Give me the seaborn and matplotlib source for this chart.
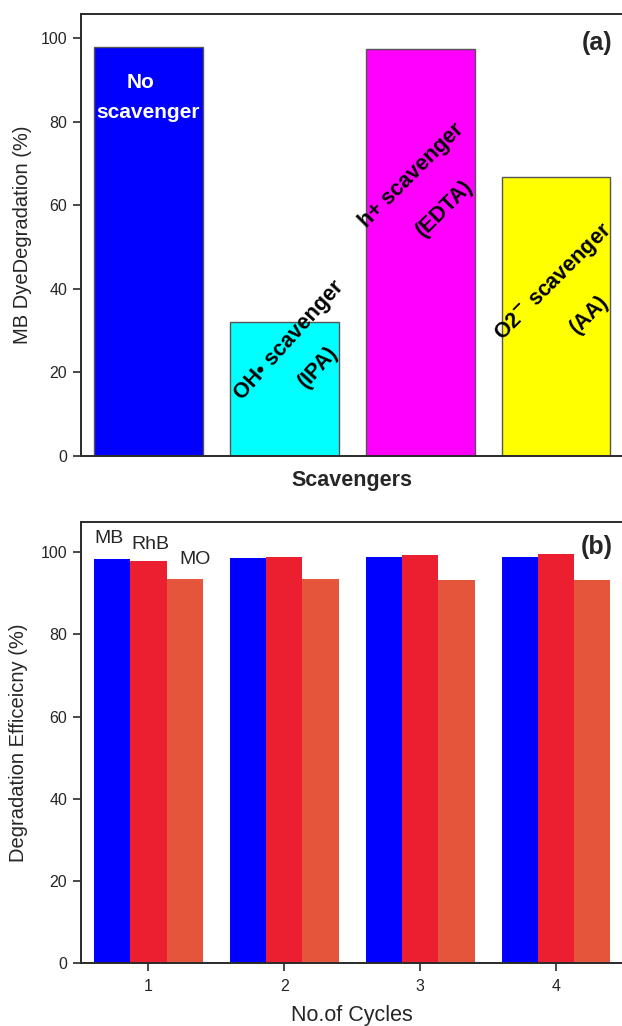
import matplotlib
matplotlib.use("Agg")
import matplotlib.pyplot as plt
import seaborn as sns
import pandas as pd

# ---- data ----
scavengers = ["No scavenger", "OH scavenger (IPA)", "h+ scavenger (EDTA)", "O2 scavenger (AA)"]
degradation = [98.0, 32.0, 97.4, 66.8]
scav_colors = ["#0000FF", "#00FFFF", "#FF00FF", "#FFFF00"]

cycles = ["1", "2", "3", "4"]
mb = [98.3, 98.5, 98.7, 98.9]
rhb = [97.9, 98.8, 99.2, 99.6]
mo = [93.4, 93.4, 93.2, 93.1]
dyes = ["MB", "RhB", "MO"]
dye_colors = ["#0000FF", "#EC1F31", "#E4553B"]

sns.set_style("ticks")
plt.rcParams["font.family"] = ["Liberation Sans", "DejaVu Sans"]
plt.rcParams["axes.edgecolor"] = "#2a2a2a"
plt.rcParams["axes.linewidth"] = 1.4

fig = plt.figure(figsize=(6.22, 10.26), dpi=100)
W, H = 622.0, 1026.0

def pos(l, r, t, b):
    return [l / W, 1 - b / H, (r - l) / W, (b - t) / H]

# ---------- panel (a) ----------
ax1 = fig.add_axes(pos(80.5, 624, 14, 455.7))
sns.barplot(x=scavengers, y=degradation, hue=scavengers, palette=scav_colors,
            legend=False, saturation=1, width=0.8, edgecolor="#555555",
            linewidth=1.0, ax=ax1)
ax1.set_xlim(-0.5, 3.5)
ax1.set_ylim(0, 105.8)
ax1.set_yticks([0, 20, 40, 60, 80, 100])
ax1.set_xticks([])
ax1.tick_params(axis="y", direction="out", length=6, width=1.2, labelsize=11.5,
                color="#2a2a2a")
ax1.set_ylabel("MB DyeDegradation (%)", fontsize=14.5, labelpad=6)
ax1.set_xlabel("Scavengers", fontsize=15.5, fontweight="bold", labelpad=10)
for s in ax1.spines.values():
    s.set_visible(True)

ax1.text(-0.06, 89.3, "No", color="white", fontsize=15, fontweight="bold",
         ha="center", va="center")
ax1.text(0.0, 82.1, "scavenger", color="white", fontsize=15, fontweight="bold",
         ha="center", va="center")

rot_kw = dict(color="black", fontsize=15.5, fontweight="bold", ha="center",
              va="center", rotation_mode="anchor")
ax1.text(1.035, 27.7, "OH\u2022 scavenger", rotation=48, **rot_kw)
ax1.text(1.248, 21.2, "(IPA)", rotation=48, **rot_kw)
ax1.text(1.936, 67.2, "h+ scavenger", rotation=45, **rot_kw)
ax1.text(2.179, 59.2, "(EDTA)", rotation=45, **rot_kw)
ax1.text(2.981, 41.6, "O2$^{\\mathbf{-}}$ scavenger", rotation=45, **rot_kw)
ax1.text(3.243, 33.7, "(AA)", rotation=45, **rot_kw)

ax1.annotate("(a)", xy=(597, H - 43), xycoords="figure pixels", fontsize=18,
             fontweight="bold", ha="center", va="center")

# ---------- panel (b) ----------
df = pd.DataFrame({
    "cycle": cycles * 3,
    "eff": mb + rhb + mo,
    "dye": [dyes[0]] * 4 + [dyes[1]] * 4 + [dyes[2]] * 4,
})
ax2 = fig.add_axes(pos(80.5, 624, 521.7, 963.3))
sns.barplot(data=df, x="cycle", y="eff", hue="dye", palette=dye_colors,
            saturation=1, width=0.8, linewidth=0, ax=ax2)
if ax2.get_legend() is not None:
    ax2.get_legend().remove()
ax2.set_xlim(-0.5, 3.5)
ax2.set_ylim(0, 107.4)
ax2.set_yticks([0, 20, 40, 60, 80, 100])
ax2.tick_params(axis="both", direction="out", length=6, width=1.2, labelsize=11.5,
                color="#2a2a2a")
ax2.tick_params(axis="x", pad=5)
ax2.set_ylabel("Degradation Efficeicny (%)", fontsize=14.5, labelpad=9)
ax2.set_xlabel("No.of Cycles", fontsize=15.5, labelpad=8)
for s in ax2.spines.values():
    s.set_visible(True)

offsets = [(-2, 14.5), (1.5, 11.5), (7.5, 14.5)]
for cont, name, (dx, dy) in zip(ax2.containers, dyes, offsets):
    bar = cont[0]
    ax2.annotate(name, xy=(bar.get_x() + bar.get_width() / 2, bar.get_height()),
                 xytext=(dx, dy), textcoords="offset points", fontsize=14,
                 ha="center", va="center")
ax2.annotate("(b)", xy=(597, H - 547), xycoords="figure pixels", fontsize=18,
             fontweight="bold", ha="center", va="center")

fig.savefig("out.png", dpi=100)
